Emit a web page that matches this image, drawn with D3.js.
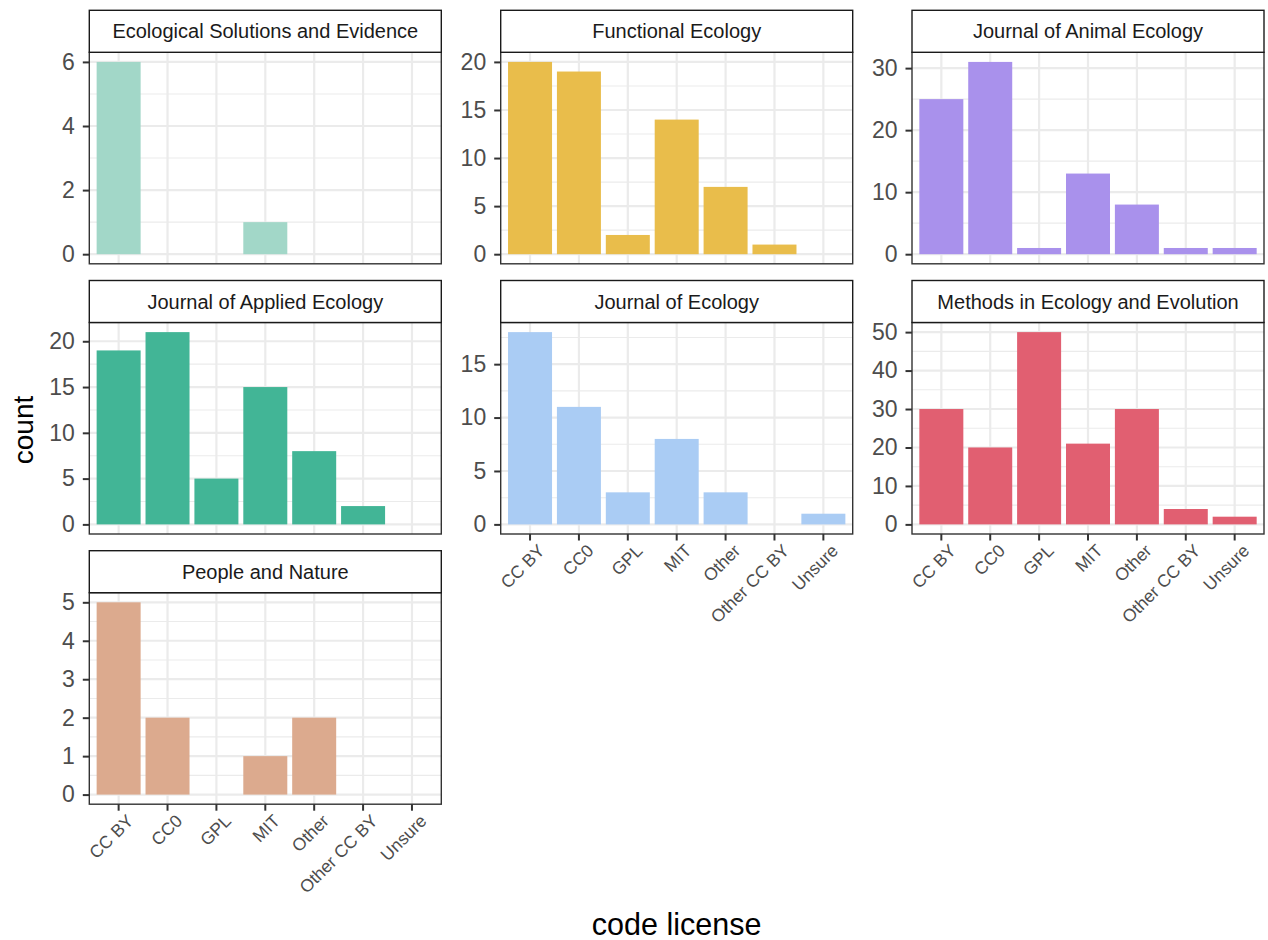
<!DOCTYPE html>
<html>
<head>
<meta charset="utf-8">
<script src="https://cdn.jsdelivr.net/npm/d3@7"></script>
<style>
  html, body { margin: 0; padding: 0; background: #fff; }
  svg { display: block; font-family: "Liberation Sans", Arial, Helvetica, sans-serif; }
</style>
</head>
<body>
<svg id="chart" width="1268" height="940"></svg>
<script>
// ---- data ----
const licenses = ["CC BY", "CC0", "GPL", "MIT", "Other", "Other CC BY", "Unsure"];
const journals = [
  "Ecological Solutions and Evidence",
  "Functional Ecology",
  "Journal of Animal Ecology",
  "Journal of Applied Ecology",
  "Journal of Ecology",
  "Methods in Ecology and Evolution",
  "People and Nature"
];
const countsESE  = [6, 0, 0, 1, 0, 0, 0];
const countsFE   = [20, 19, 2, 14, 7, 1, 0];
const countsJAE  = [25, 31, 1, 13, 8, 1, 1];
const countsJAPE = [19, 21, 5, 15, 8, 2, 0];
const countsJE   = [18, 11, 3, 8, 3, 0, 1];
const countsMEE  = [30, 20, 50, 21, 30, 4, 2];
const countsPN   = [5, 2, 0, 1, 2, 0, 0];
const ticksESE  = [0, 2, 4, 6];
const ticksFE   = [0, 5, 10, 15, 20];
const ticksJAE  = [0, 10, 20, 30];
const ticksJAPE = [0, 5, 10, 15, 20];
const ticksJE   = [0, 5, 10, 15];
const ticksMEE  = [0, 10, 20, 30, 40, 50];
const ticksPN   = [0, 1, 2, 3, 4, 5];
const colors = ["#A2D7C8", "#E9BD4B", "#A991EC", "#42B596", "#AACCF4", "#E15F71", "#DCAA8E"];
const xTitle = "code license";
const yTitle = "count";

const seriesCounts = [countsESE, countsFE, countsJAE, countsJAPE, countsJE, countsMEE, countsPN];
const seriesTicks  = [ticksESE, ticksFE, ticksJAE, ticksJAPE, ticksJE, ticksMEE, ticksPN];

// ---- layout ----
const svg = d3.select("#chart");
const colX = [89.3, 500.7, 912];
const panelW = 352;
const rowTop = [10.3, 280.5, 550.7];
const stripH = 42;
const panelH = 211.5;
const ncol = 3;
const nPanels = journals.length;

const gridCol = "#EBEBEB";
const axisCol = "#333333";
const textCol = "#4D4D4D";

// discrete x: positions 1..7, expanded by 0.6 each side
const xLin = d3.scaleLinear().domain([0.4, licenses.length + 0.6]).range([0, panelW]);
const barW = 0.9;

journals.forEach((name, i) => {
  const col = i % ncol, row = Math.floor(i / ncol);
  const x0 = colX[col];
  const sTop = rowTop[row];
  const pTop = sTop + stripH;
  const pBot = pTop + panelH;
  const counts = seriesCounts[i];
  const ticks = seriesTicks[i];
  const maxV = d3.max(counts);
  const y = d3.scaleLinear().domain([-0.05 * maxV, 1.05 * maxV]).range([panelH, 0]);

  const g = svg.append("g").attr("transform", `translate(${x0},${pTop})`);
  g.append("rect").attr("width", panelW).attr("height", panelH).attr("fill", "#fff");

  // minor y gridlines (midpoints)
  const dom = y.domain();
  const step = ticks[1] - ticks[0];
  const minors = [];
  for (let k = 0; k < ticks.length + 1; k++) {
    const v = ticks[0] + step * (k + 0.5);
    if (v > dom[0] && v < dom[1]) minors.push(v);
  }
  g.selectAll(".minor").data(minors).join("line")
    .attr("x1", 0).attr("x2", panelW)
    .attr("y1", d => y(d)).attr("y2", d => y(d))
    .attr("stroke", gridCol).attr("stroke-width", 1.1);
  g.selectAll(".majorY").data(ticks).join("line")
    .attr("x1", 0).attr("x2", panelW)
    .attr("y1", d => y(d)).attr("y2", d => y(d))
    .attr("stroke", gridCol).attr("stroke-width", 2.2);
  g.selectAll(".majorX").data(licenses).join("line")
    .attr("x1", (d, k) => xLin(k + 1)).attr("x2", (d, k) => xLin(k + 1))
    .attr("y1", 0).attr("y2", panelH)
    .attr("stroke", gridCol).attr("stroke-width", 2.2);

  // bars
  g.selectAll(".bar").data(counts.map((v, k) => ({ v, k })).filter(d => d.v > 0)).join("rect")
    .attr("x", d => xLin(d.k + 1 - barW / 2))
    .attr("width", d => xLin(d.k + 1 + barW / 2) - xLin(d.k + 1 - barW / 2))
    .attr("y", d => y(d.v))
    .attr("height", d => y(0) - y(d.v))
    .attr("fill", colors[i]);

  // panel border
  g.append("rect").attr("width", panelW).attr("height", panelH)
    .attr("fill", "none").attr("stroke", axisCol).attr("stroke-width", 1.4);

  // y axis ticks + labels
  const yAxis = d3.axisLeft(y).tickValues(ticks).tickSize(6.5).tickPadding(8).tickFormat(d3.format("d"));
  const ya = g.append("g").call(yAxis);
  ya.select(".domain").remove();
  ya.selectAll(".tick line").attr("stroke", axisCol).attr("stroke-width", 2);
  ya.selectAll(".tick text").attr("fill", textCol).attr("font-size", 23)
    .attr("font-family", "Liberation Sans, Arial, sans-serif");

  // strip
  const s = svg.append("g").attr("transform", `translate(${x0},${sTop})`);
  s.append("rect").attr("width", panelW).attr("height", stripH)
    .attr("fill", "#fff").attr("stroke", "#1A1A1A").attr("stroke-width", 1.4);
  s.append("text").attr("x", panelW / 2).attr("y", stripH / 2)
    .attr("text-anchor", "middle").attr("dominant-baseline", "central")
    .attr("font-size", 20).attr("fill", "#1A1A1A").text(name);

  // x axis only for bottom panel of each column
  const isBottom = (i + ncol >= nPanels);
  if (isBottom) {
    const xa = svg.append("g").attr("transform", `translate(${x0},${pBot})`);
    xa.selectAll("line").data(licenses).join("line")
      .attr("x1", (d, k) => xLin(k + 1)).attr("x2", (d, k) => xLin(k + 1))
      .attr("y1", 0).attr("y2", 6.5)
      .attr("stroke", axisCol).attr("stroke-width", 2);
    xa.selectAll("text").data(licenses).join("text")
      .attr("transform", (d, k) => `translate(${xLin(k + 1) + 7},${9}) rotate(-45)`)
      .attr("text-anchor", "end").attr("dy", "0.71em")
      .attr("font-size", 17.5).attr("fill", textCol).text(d => d);
  }
});

// axis titles
svg.append("text").attr("x", (colX[0] + colX[2] + panelW) / 2).attr("y", 935)
  .attr("text-anchor", "middle").attr("font-size", 30.5).attr("fill", "#000").text(xTitle);
svg.append("text").attr("transform", `translate(33,430) rotate(-90)`)
  .attr("text-anchor", "middle").attr("font-size", 28).attr("fill", "#000").text(yTitle);
</script>
</body>
</html>
